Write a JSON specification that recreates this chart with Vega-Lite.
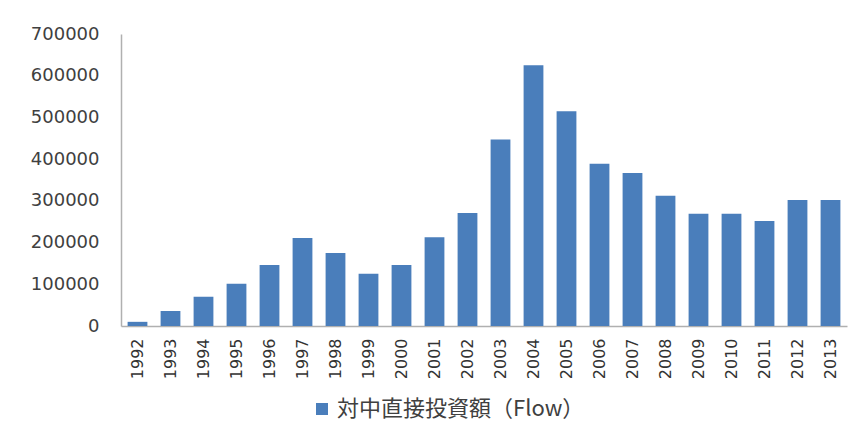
{
  "$schema": "https://vega.github.io/schema/vega-lite/v6.json",
  "autosize": "none",
  "width": 726,
  "height": 292,
  "padding": {"left": 121, "top": 34, "right": 17, "bottom": 109},
  "background": "white",
  "data": {
    "values": [
      {"year": "1992", "value": 10000, "series": "対中直接投資額（Flow）"},
      {"year": "1993", "value": 36000, "series": "対中直接投資額（Flow）"},
      {"year": "1994", "value": 70000, "series": "対中直接投資額（Flow）"},
      {"year": "1995", "value": 101000, "series": "対中直接投資額（Flow）"},
      {"year": "1996", "value": 146000, "series": "対中直接投資額（Flow）"},
      {"year": "1997", "value": 211000, "series": "対中直接投資額（Flow）"},
      {"year": "1998", "value": 175000, "series": "対中直接投資額（Flow）"},
      {"year": "1999", "value": 125000, "series": "対中直接投資額（Flow）"},
      {"year": "2000", "value": 146000, "series": "対中直接投資額（Flow）"},
      {"year": "2001", "value": 213000, "series": "対中直接投資額（Flow）"},
      {"year": "2002", "value": 271000, "series": "対中直接投資額（Flow）"},
      {"year": "2003", "value": 447000, "series": "対中直接投資額（Flow）"},
      {"year": "2004", "value": 625000, "series": "対中直接投資額（Flow）"},
      {"year": "2005", "value": 515000, "series": "対中直接投資額（Flow）"},
      {"year": "2006", "value": 389000, "series": "対中直接投資額（Flow）"},
      {"year": "2007", "value": 367000, "series": "対中直接投資額（Flow）"},
      {"year": "2008", "value": 312000, "series": "対中直接投資額（Flow）"},
      {"year": "2009", "value": 269000, "series": "対中直接投資額（Flow）"},
      {"year": "2010", "value": 269000, "series": "対中直接投資額（Flow）"},
      {"year": "2011", "value": 252000, "series": "対中直接投資額（Flow）"},
      {"year": "2012", "value": 302000, "series": "対中直接投資額（Flow）"},
      {"year": "2013", "value": 302000, "series": "対中直接投資額（Flow）"}
    ]
  },
  "mark": {"type": "bar", "color": "#4A7EBB"},
  "encoding": {
    "x": {
      "field": "year",
      "type": "ordinal",
      "title": null,
      "scale": {"paddingInner": 0.4, "paddingOuter": 0.2},
      "axis": {
        "labelAngle": -90,
        "labelFont": "DejaVu Sans",
        "labelFontSize": 16,
        "labelColor": "#333333",
        "labelPadding": 12,
        "ticks": false,
        "domainColor": "#b0b0b0",
        "domainWidth": 1.5
      }
    },
    "y": {
      "field": "value",
      "type": "quantitative",
      "title": null,
      "scale": {"domain": [0, 700000]},
      "axis": {
        "values": [0, 100000, 200000, 300000, 400000, 500000, 600000, 700000],
        "format": "d",
        "grid": false,
        "ticks": false,
        "labelFont": "DejaVu Sans",
        "labelFontSize": 18,
        "labelColor": "#404040",
        "labelPadding": 22,
        "domainColor": "#b0b0b0",
        "domainWidth": 1.5
      }
    },
    "color": {
      "field": "series",
      "type": "nominal",
      "scale": {"range": ["#4A7EBB"]},
      "legend": {
        "title": null,
        "orient": "none",
        "legendX": 190,
        "legendY": 364,
        "symbolType": "square",
        "symbolSize": 144,
        "labelFont": "Noto Sans CJK JP",
        "labelFontSize": 22,
        "labelColor": "#404040",
        "labelLimit": 400
      }
    }
  },
  "config": {"view": {"stroke": null}}
}
